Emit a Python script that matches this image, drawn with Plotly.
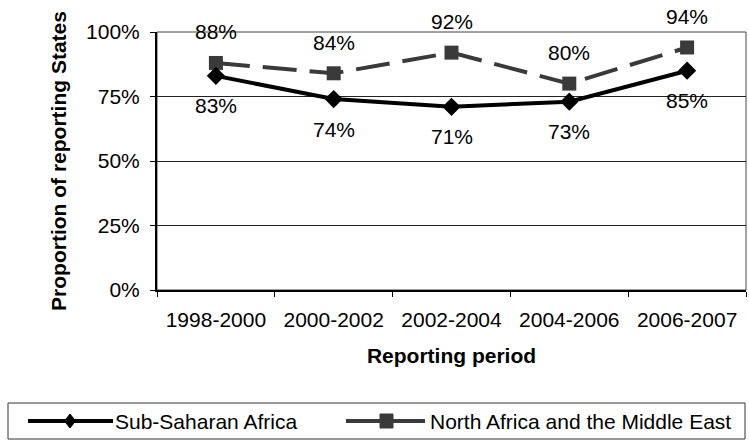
import plotly.graph_objects as go

# reporting periods and proportions (share of reporting States)
periods = ["1998-2000", "2000-2002", "2002-2004", "2004-2006", "2006-2007"]
sub_saharan = [0.83, 0.74, 0.71, 0.73, 0.85]
north_africa_me = [0.88, 0.84, 0.92, 0.80, 0.94]
series_names = ["Sub-Saharan Africa", "North Africa and the Middle East"]

FONT = "Liberation Sans, Arial, sans-serif"
W, H = 749, 441
L, R, T, B = 157, 3, 32, 151
PW = W - L - R
PH = H - T - B


def px(x):
    # page pixel -> paper x
    return (x - L) / PW


def py(y):
    # page pixel -> paper y
    return (H - B - y) / PH


fig = go.Figure()
fig.add_trace(go.Scatter(
    x=periods, y=north_africa_me, name=series_names[1], mode="lines+markers",
    line=dict(color="#3a3a3a", width=4, dash="34px,13px"),
    marker=dict(symbol="square", size=14, color="#3a3a3a"),
    showlegend=False))
fig.add_trace(go.Scatter(
    x=periods, y=sub_saharan, name=series_names[0], mode="lines+markers",
    line=dict(color="black", width=4),
    marker=dict(symbol="diamond", size=14, color="black"),
    showlegend=False))

annotations = []
for p, v in zip(periods, north_africa_me):
    annotations.append(dict(x=p, y=v, text=f"{round(v * 100)}%", showarrow=False,
                            yshift=31, font=dict(size=21, color="black")))
for p, v in zip(periods, sub_saharan):
    annotations.append(dict(x=p, y=v, text=f"{round(v * 100)}%", showarrow=False,
                            yshift=-30, font=dict(size=21, color="black")))

# legend, drawn by hand so the sample lines are as long as in the original
ly = 421
annotations.append(dict(xref="paper", yref="paper", x=px(113), y=py(ly), xanchor="left",
                        yanchor="middle", text=series_names[0], showarrow=False,
                        font=dict(size=21, color="black")))
annotations.append(dict(xref="paper", yref="paper", x=px(428), y=py(ly), xanchor="left",
                        yanchor="middle", text=series_names[1], showarrow=False,
                        font=dict(size=21, color="black")))

shapes = [
    # plot area frame (top / right)
    dict(type="rect", xref="paper", yref="paper", x0=0, x1=1, y0=0, y1=1,
         line=dict(color="#444444", width=1), layer="below"),
    # legend box
    dict(type="rect", xref="paper", yref="paper", x0=px(8), x1=px(745), y0=py(403), y1=py(439),
         line=dict(color="#333333", width=1)),
    # legend sample 1
    dict(type="line", xref="paper", yref="paper", x0=px(28), x1=px(113), y0=py(ly), y1=py(ly),
         line=dict(color="black", width=4)),
    dict(type="path", xref="paper", yref="paper",
         path=f"M {px(70)} {py(ly - 7)} L {px(75.5)} {py(ly)} L {px(70)} {py(ly + 7)} L {px(64.5)} {py(ly)} Z",
         fillcolor="black", line=dict(color="black", width=1)),
    # legend sample 2
    dict(type="line", xref="paper", yref="paper", x0=px(346), x1=px(425), y0=py(ly), y1=py(ly),
         line=dict(color="#3a3a3a", width=4, dash="34px,12px")),
    dict(type="rect", xref="paper", yref="paper", x0=px(380), x1=px(393), y0=py(ly - 7), y1=py(ly + 7),
         fillcolor="#3a3a3a", line=dict(color="#3a3a3a", width=1)),
]

fig.update_layout(
    width=W, height=H,
    margin=dict(l=L, r=R, t=T, b=B, pad=0),
    paper_bgcolor="white", plot_bgcolor="white",
    font=dict(family=FONT, size=21, color="black"),
    showlegend=False,
    annotations=annotations,
    shapes=shapes,
)
fig.update_xaxes(
    type="category", range=[-0.5, len(periods) - 0.5], tickson="boundaries",
    ticks="outside", ticklen=5, tickcolor="black", ticklabelstandoff=10,
    showline=True, linecolor="black", linewidth=2, showgrid=False,
    tickfont=dict(size=21),
    title=dict(text="<b>Reporting period</b>", font=dict(size=21), standoff=18),
)
fig.update_yaxes(
    range=[0, 1], tickvals=[0, 0.25, 0.5, 0.75, 1], tickformat=".0%",
    ticks="outside", ticklen=5, tickcolor="black", ticklabelstandoff=6,
    showline=True, linecolor="black", linewidth=2,
    showgrid=True, gridcolor="#222222", gridwidth=1, zeroline=False,
    tickfont=dict(size=21),
    title=dict(text="<b>Proportion of reporting States</b>", font=dict(size=21), standoff=14),
)

# the page body has an 8px default margin; drop it so the figure fills the window
fig.write_html("out.html", config={"displayModeBar": False},
               post_script="document.body.style.margin='0px';")
